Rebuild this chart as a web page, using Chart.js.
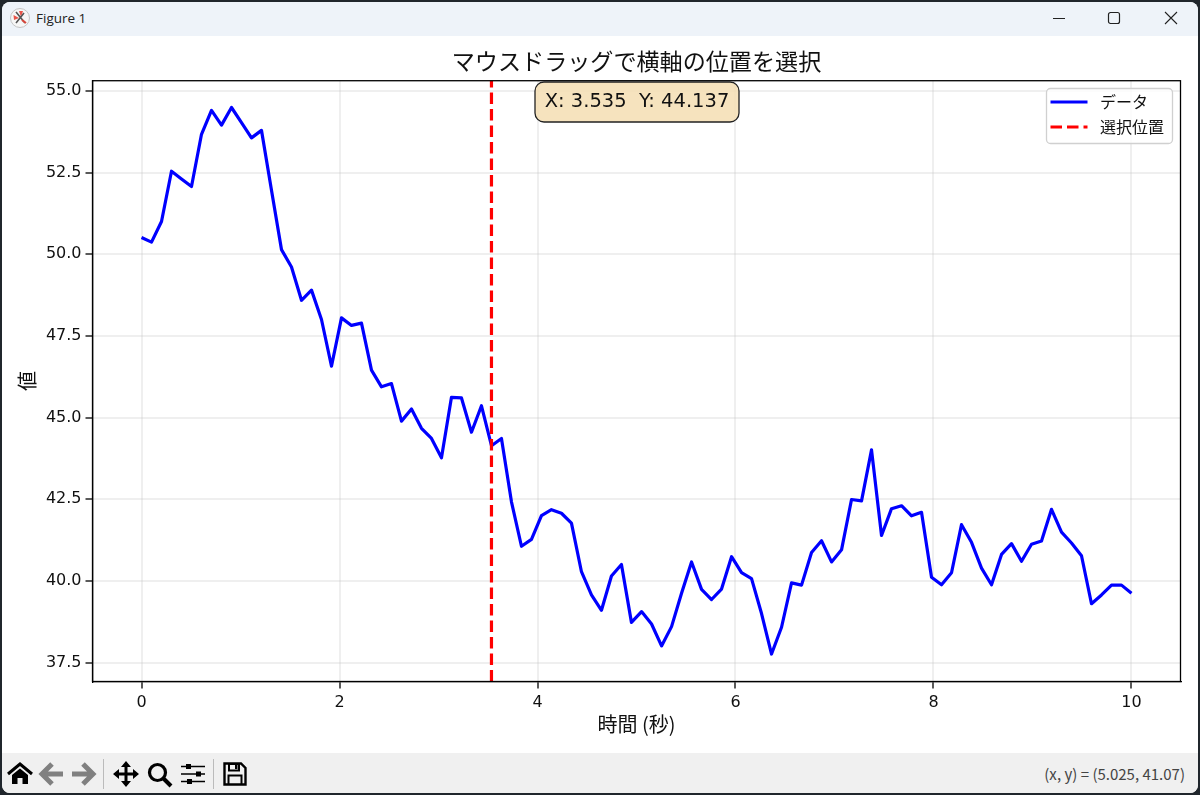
<!DOCTYPE html>
<html lang="ja">
<head>
<meta charset="utf-8">
<title>Figure 1</title>
<script src="https://cdn.jsdelivr.net/npm/chart.js@4/dist/chart.umd.min.js"></script>
<style>
html, body { margin: 0; padding: 0; width: 1200px; height: 795px; overflow: hidden; background: #20262c; }
#win { position: absolute; left: 2px; top: 2px; width: 1196px; height: 791px; background: #fff; border-radius: 8px; overflow: hidden; }
#titlebar { position: absolute; left: 0; top: 0; width: 100%; height: 34px; background: #eef3f9; }
#titlebar span { position: absolute; left: 34px; top: 7px; font: 13.5px "Open Sans", sans-serif; color: #222; }
#toolbar { position: absolute; left: 0; top: 751px; width: 100%; height: 40px; background: #f0f0f0; }
#status { position: absolute; right: 13px; top: 10px; font: 15px "Noto Sans CJK JP", sans-serif; color: #444; }
svg { position: absolute; overflow: visible; }
canvas { position: absolute; left: 0; top: 0; }
</style>
</head>
<body>
<div id="win">
  <div id="titlebar">
    <svg style="left:8px;top:6px" width="20" height="20" viewBox="0 0 20 20">
      <circle cx="10" cy="10" r="9.5" fill="#f6f6f6" stroke="#c4c4c4"/>
      <path d="M3.5 7 L9 10 L4 12 Z M9 3 L11 9 L13 3 Z" fill="#e8554a"/>
      <path d="M6 4 L15 15 M14 5 L6 15" stroke="#555" stroke-width="1.6"/>
      <path d="M12 12 L16 15" stroke="#d8453a" stroke-width="2"/>
    </svg>
    <span>Figure 1</span>
    <svg style="left:1051px;top:16px" width="12" height="2"><path d="M0 .5 H12" stroke="#222"/></svg>
    <svg style="left:1106px;top:10px" width="12" height="12"><rect x=".5" y=".5" width="11" height="11" rx="2" fill="none" stroke="#222" stroke-width="1.2"/></svg>
    <svg style="left:1163px;top:10px" width="12" height="12"><path d="M0 0 L12 12 M12 0 L0 12" stroke="#222" stroke-width="1.1"/></svg>
  </div>
  <div id="toolbar">
    <svg style="left:5px;top:9px" width="26" height="24" viewBox="0 0 26 24">
      <path d="M1 12 L13 2 L25 12" fill="none" stroke="#000" stroke-width="3"/>
      <path d="M5 13 L13 6.5 L21 13 V22 H15.5 V16 H10.5 V22 H5 Z" fill="#000"/>
    </svg>
    <svg style="left:38px;top:9px" width="24" height="24" viewBox="0 0 24 24">
      <path d="M12 2 L2 12 L12 22 M3 12 H23" fill="none" stroke="#808080" stroke-width="5"/>
    </svg>
    <svg style="left:69px;top:9px" width="24" height="24" viewBox="0 0 24 24">
      <path d="M12 2 L22 12 L12 22 M21 12 H1" fill="none" stroke="#808080" stroke-width="5"/>
    </svg>
    <svg style="left:101px;top:6px" width="2" height="30"><path d="M.5 0 V30" stroke="#bbb"/></svg>
    <svg style="left:111px;top:8px" width="26" height="26" viewBox="0 0 26 26">
      <path d="M13 3 V23 M3 13 H23" stroke="#000" stroke-width="3"/>
      <path d="M13 0 L18 6 H8 Z M13 26 L18 20 H8 Z M0 13 L6 8 V18 Z M26 13 L20 8 V18 Z" fill="#000"/>
    </svg>
    <svg style="left:145px;top:9px" width="26" height="26" viewBox="0 0 26 26">
      <circle cx="10.5" cy="10.5" r="8" fill="none" stroke="#000" stroke-width="3.2"/>
      <path d="M16 16 L24 24" stroke="#000" stroke-width="4"/>
    </svg>
    <svg style="left:179px;top:9px" width="24" height="24" viewBox="0 0 24 24">
      <path d="M0 4.5 H24 M0 12 H24 M0 19.5 H24" stroke="#000" stroke-width="1.6"/>
      <rect x="5" y="2" width="5" height="5" fill="#000"/>
      <rect x="15" y="9.5" width="5" height="5" fill="#000"/>
      <rect x="6" y="17" width="5" height="5" fill="#000"/>
    </svg>
    <svg style="left:211px;top:6px" width="2" height="30"><path d="M.5 0 V30" stroke="#bbb"/></svg>
    <svg style="left:221px;top:9px" width="24" height="24" viewBox="0 0 24 24">
      <path d="M1.5 1.5 H18 L22.5 6 V22.5 H1.5 Z" fill="none" stroke="#000" stroke-width="2.4"/>
      <path d="M6 2 H16 V8.5 H6 Z" fill="none" stroke="#000" stroke-width="2"/>
      <rect x="12" y="3" width="2.5" height="4" fill="#000"/>
      <path d="M5.5 22 V13.5 H18.5 V22" fill="none" stroke="#000" stroke-width="2"/>
    </svg>
    <div id="status">(x, y) = (5.025, 41.07)</div>
  </div>
</div>
<canvas id="figure" width="1200" height="795"></canvas>
<script>
const timeValues = [
    0, 0.101, 0.202, 0.303, 0.404, 0.505, 0.606, 0.707, 0.808, 0.909,
    1.010, 1.111, 1.212, 1.313, 1.414, 1.515, 1.616, 1.717, 1.818, 1.919,
    2.020, 2.121, 2.222, 2.323, 2.424, 2.525, 2.626, 2.727, 2.828, 2.929,
    3.030, 3.131, 3.232, 3.333, 3.434, 3.535, 3.636, 3.737, 3.838, 3.939,
    4.040, 4.141, 4.242, 4.343, 4.444, 4.545, 4.646, 4.747, 4.848, 4.949,
    5.051, 5.152, 5.253, 5.354, 5.455, 5.556, 5.657, 5.758, 5.859, 5.960,
    6.061, 6.162, 6.263, 6.364, 6.465, 6.566, 6.667, 6.768, 6.869, 6.970,
    7.071, 7.172, 7.273, 7.374, 7.475, 7.576, 7.677, 7.778, 7.879, 7.980,
    8.081, 8.182, 8.283, 8.384, 8.485, 8.586, 8.687, 8.788, 8.889, 8.990,
    9.091, 9.192, 9.293, 9.394, 9.495, 9.596, 9.697, 9.798, 9.899, 10
];
const signalValues = [
    50.51, 50.37, 51.00, 52.54, 52.30, 52.07, 53.67, 54.40, 53.95, 54.49,
    54.03, 53.56, 53.79, 51.96, 50.14, 49.61, 48.59, 48.90, 48.00, 46.57,
    48.05, 47.82, 47.89, 46.45, 45.94, 46.04, 44.89, 45.26, 44.67, 44.36,
    43.77, 45.62, 45.60, 44.55, 45.36, 44.137, 44.36, 42.42, 41.06, 41.27,
    42.00, 42.18, 42.07, 41.77, 40.28, 39.57, 39.10, 40.15, 40.50, 38.73,
    39.06, 38.68, 38.01, 38.60, 39.62, 40.58, 39.74, 39.43, 39.75, 40.74,
    40.25, 40.07, 39.00, 37.76, 38.58, 39.94, 39.87, 40.87, 41.23, 40.58,
    40.95, 42.49, 42.45, 44.01, 41.39, 42.21, 42.30, 41.99, 42.10, 40.11,
    39.88, 40.25, 41.72, 41.18, 40.39, 39.88, 40.81, 41.14, 40.60, 41.12,
    41.22, 42.19, 41.49, 41.16, 40.77, 39.30, 39.57, 39.87, 39.87, 39.62
];
const xTicks = [0, 2, 4, 6, 8, 10];
const yTicks = [37.5, 40, 42.5, 45, 47.5, 50, 52.5, 55];
const xRange = [-0.495, 10.495];
const yRange = [36.92, 55.31];
const selectedX = 3.535;
const selectedY = 44.137;

const latinFont = '"DejaVu Sans", "Noto Sans CJK JP", sans-serif';
const cjkFont = '"Noto Sans CJK JP", sans-serif';
const gridColor = 'rgba(176,176,176,0.2)';

// Frame on the top and right, the library only strokes the axis side
const spinePlugin = {
    id: 'spines',
    afterDatasetsDraw(chart) {
        const { ctx, chartArea: a } = chart;
        ctx.save();
        ctx.strokeStyle = '#000';
        ctx.lineWidth = 1.3;
        ctx.strokeRect(a.left, a.top, a.right - a.left, a.bottom - a.top);
        ctx.restore();
    }
};

// Legend with a see-through frame, and the readout box over the axes
const overlayPlugin = {
    id: 'overlay',
    afterDraw(chart) {
        const ctx = chart.ctx;
        ctx.save();
        ctx.beginPath();
        ctx.roundRect(1046.5, 88.5, 126, 55, 4);
        ctx.fillStyle = 'rgba(255,255,255,0.8)';
        ctx.fill();
        ctx.strokeStyle = '#d0d0d0';
        ctx.lineWidth = 1.3;
        ctx.stroke();

        chart.data.datasets.forEach((ds, i) => {
            const y = 102 + i * 25;
            ctx.beginPath();
            ctx.setLineDash(ds.borderDash || []);
            ctx.moveTo(1050.5, y);
            ctx.lineTo(1087.5, y);
            ctx.strokeStyle = ds.borderColor;
            ctx.lineWidth = ds.borderWidth;
            ctx.stroke();
            ctx.setLineDash([]);
            ctx.fillStyle = '#111';
            ctx.font = '16px ' + cjkFont;
            ctx.textAlign = 'left';
            ctx.textBaseline = 'middle';
            ctx.fillText(ds.label, 1100, y);
        });

        ctx.beginPath();
        ctx.roundRect(535, 82, 204, 40, 9);
        ctx.fillStyle = 'rgba(245,222,179,0.85)';
        ctx.fill();
        ctx.strokeStyle = '#222';
        ctx.lineWidth = 1.3;
        ctx.stroke();
        ctx.fillStyle = '#111';
        ctx.font = '19.5px ' + latinFont;
        ctx.textAlign = 'center';
        ctx.fillText(`X: ${selectedX.toFixed(3)}  Y: ${selectedY.toFixed(3)}`, 637, 102);
        ctx.restore();
    }
};

new Chart(document.getElementById('figure'), {
    type: 'line',
    data: {
        datasets: [
            {
                label: 'データ',
                data: timeValues.map((t, i) => ({ x: t, y: signalValues[i] })),
                borderColor: '#0000ff',
                borderWidth: 3.2,
                borderJoinStyle: 'round',
                pointRadius: 0,
                tension: 0,
                order: 2
            },
            {
                label: '選択位置',
                data: [{ x: selectedX, y: yRange[0] }, { x: selectedX, y: yRange[1] }],
                borderColor: '#ff0000',
                borderWidth: 3.2,
                borderDash: [11.5, 5],
                pointRadius: 0,
                order: 1
            }
        ]
    },
    options: {
        responsive: false,
        animation: false,
        layout: {
            autoPadding: false,
            padding: { top: 47, left: 15, right: 19.5, bottom: 58.5 }
        },
        plugins: {
            legend: { display: false },
            tooltip: { enabled: false },
            title: {
                display: true,
                text: 'マウスドラッグで横軸の位置を選択',
                fullSize: false,
                color: '#111',
                font: { family: cjkFont, size: 23.1, weight: 'normal' },
                padding: { top: 0, bottom: 6 }
            }
        },
        scales: {
            x: {
                type: 'linear',
                min: xRange[0],
                max: xRange[1],
                afterBuildTicks: axis => { axis.ticks = xTicks.map(v => ({ value: v })); },
                afterFit: axis => { axis.height = 55; },
                ticks: {
                    autoSkip: false,
                    maxRotation: 0,
                    padding: 5,
                    color: '#111',
                    font: { family: latinFont, size: 16 },
                    callback: v => String(v)
                },
                grid: { color: gridColor, lineWidth: 2, tickColor: '#000', tickWidth: 1.3, tickLength: 7 },
                border: { color: '#000', width: 1.3 },
                title: {
                    display: true,
                    text: '時間 (秒)',
                    color: '#111',
                    padding: 0,
                    font: { family: cjkFont, size: 20 }
                }
            },
            y: {
                min: yRange[0],
                max: yRange[1],
                afterBuildTicks: axis => { axis.ticks = yTicks.map(v => ({ value: v })); },
                afterFit: axis => { axis.width = 77.5; },
                ticks: {
                    autoSkip: false,
                    padding: 4,
                    color: '#111',
                    font: { family: latinFont, size: 16 },
                    callback: v => v.toFixed(1)
                },
                grid: { color: gridColor, lineWidth: 2, tickColor: '#000', tickWidth: 1.3, tickLength: 7 },
                border: { color: '#000', width: 1.3 },
                title: {
                    display: true,
                    text: '値',
                    color: '#111',
                    padding: 0,
                    font: { family: cjkFont, size: 20 }
                }
            }
        }
    },
    plugins: [spinePlugin, overlayPlugin]
});
</script>
</body>
</html>
